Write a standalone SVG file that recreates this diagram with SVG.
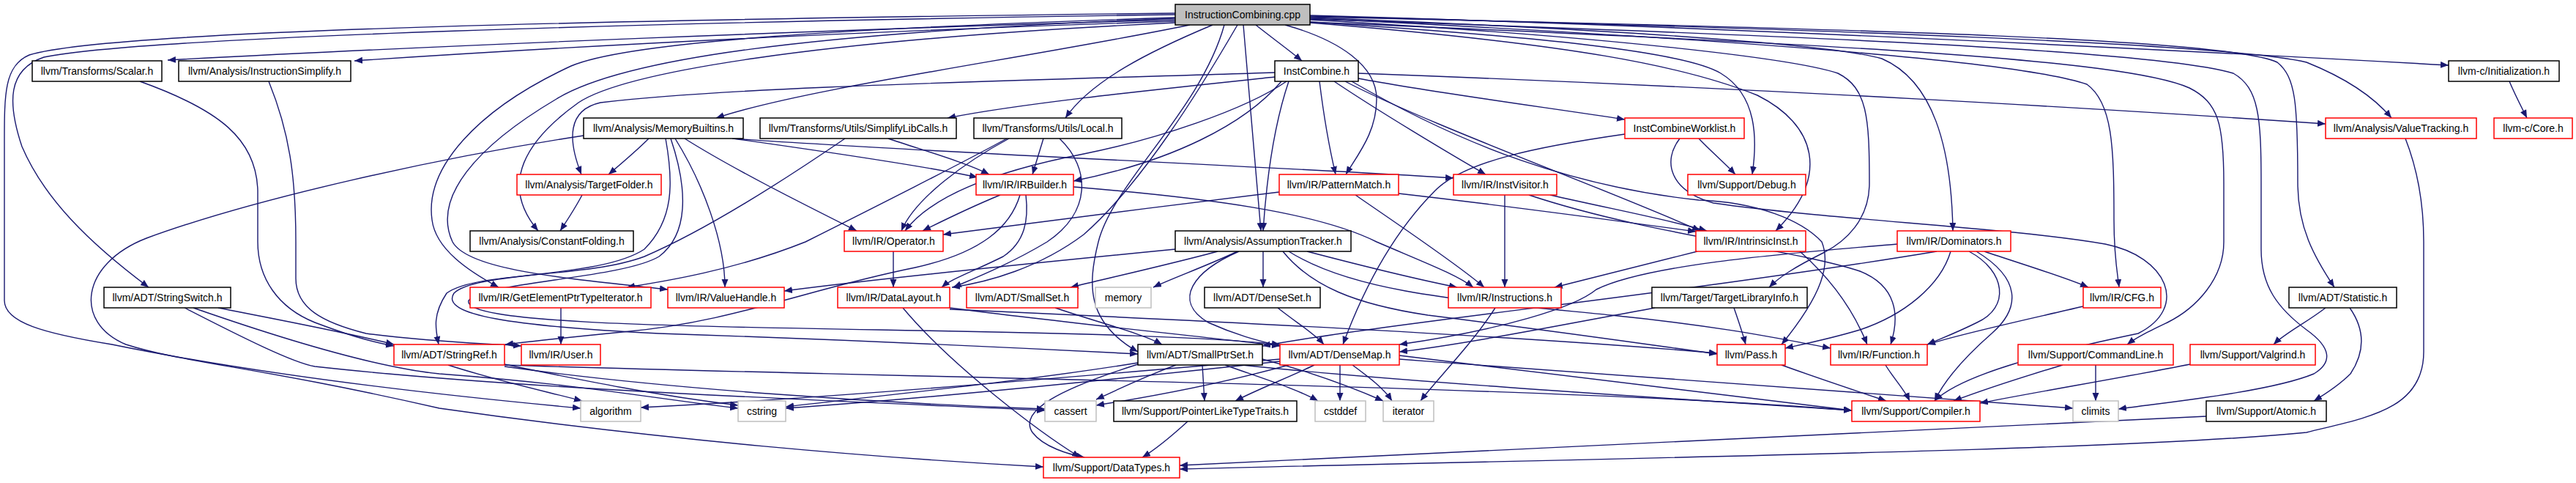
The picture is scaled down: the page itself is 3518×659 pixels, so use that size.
<svg xmlns="http://www.w3.org/2000/svg" width="3518" height="659" viewBox="0 0 3518 659">
<style>
.e path{fill:none;stroke:#191970;stroke-width:1.4;marker-end:url(#a)}
.node rect{fill:#fff;stroke:#000;stroke-width:1.5}
.node rect.r{stroke:#ff0000}
.node rect.g{stroke:#bfbfbf}
.node rect.root{fill:#bfbfbf}
.node text{font-family:"Liberation Sans",Arial,sans-serif;font-size:14px;fill:#000;text-anchor:middle}
</style>
<defs>
<marker id="a" markerUnits="userSpaceOnUse" markerWidth="12" markerHeight="10" refX="11" refY="4.5" orient="auto"><path d="M0,0L11,4.5L0,9z" fill="#191970"/></marker>
</defs>
<rect width="3518" height="659" fill="#fff"/>
<g id="edges" class="e">
<path d="M1605,27 C1150,40 600,62 229,82"/>
<path d="M1605,29 C1200,42 800,62 484,83"/>
<path d="M1715,34 C1735,50 1760,68 1778,83"/>
<path d="M1789,21 C2400,38 3000,70 3344,89"/>
<path d="M1625,34 C1400,80 1100,120 978,161"/>
<path d="M1656,34 C1570,70 1490,110 1455,161"/>
<path d="M1605,31 C1100,55 850,100 790,140 C720,190 680,250 735,315"/>
<path d="M1698,34 C1705,120 1715,230 1722,315"/>
<path d="M1755,34 C1830,55 1880,90 1880,135 C1880,180 1855,210 1838,238"/>
<path d="M1789,30 C2100,50 2300,70 2350,100 C2400,130 2400,190 2393,238"/>
<path d="M1789,31 C2150,60 2300,90 2400,130 C2480,170 2500,240 2425,315"/>
<path d="M1789,24 C2200,40 2500,60 2570,80 C2640,110 2665,200 2667,315"/>
<path d="M1789,22 C2500,40 3050,60 3150,85 C3200,105 3240,130 3266,161"/>
<path d="M1605,20 C900,30 200,50 60,78 C10,95 10,140 30,200 C60,270 120,330 203,392"/>
<path d="M1605,18 C900,26 150,40 40,75 C5,90 6,130 6,200 L6,410 C6,440 60,455 153,470 C300,500 500,530 793,557"/>
<path d="M1605,24 C1100,40 850,60 780,90 C650,150 580,230 590,300 C595,340 640,370 681,392"/>
<path d="M1605,25 C1100,45 850,80 760,135 C650,200 590,270 618,330 C640,370 780,380 912,395"/>
<path d="M1690,34 C1640,120 1560,250 1480,320 C1420,365 1350,385 1300,392"/>
<path d="M1672,34 C1640,150 1520,250 1500,330 C1485,390 1484,440 1554,480"/>
<path d="M1789,25 C2300,50 2750,80 2850,115 C2885,140 2887,200 2887,300 C2887,350 2892,375 2894,392"/>
<path d="M1789,23 C2600,40 3050,55 3110,85 C3135,105 3138,140 3138,250 C3138,310 3160,350 3188,392"/>
<path d="M1789,27 C2200,50 2450,80 2510,100 C2550,120 2553,160 2553,250 C2553,300 2520,330 2490,345 C2450,365 2430,378 2416,392"/>
<path d="M1789,30 C2500,60 2900,80 2990,120 C3030,140 3037,170 3037,250 L3037,330 C3037,380 3000,420 2960,440 C2935,452 2918,460 2905,470"/>
<path d="M1789,26 C2500,50 2950,70 3050,100 C3085,120 3088,160 3088,250 L3088,340 C3088,390 3110,420 3150,450 C3185,475 3185,495 3160,510 C3100,535 2950,550 2893,558"/>
<path d="M1855,107 C1950,125 2100,145 2219,163"/>
<path d="M1741,105 C1600,120 1400,140 1294,161"/>
<path d="M1741,99 C1400,110 1000,118 820,140 C775,150 775,190 794,238"/>
<path d="M1855,100 C2400,120 2900,150 3176,169"/>
<path d="M1760,111 C1740,170 1730,240 1725,315"/>
<path d="M1750,111 C1700,170 1600,220 1466,247"/>
<path d="M1822,111 C1880,150 1980,210 2029,238"/>
<path d="M1837,111 C1950,170 2200,260 2322,315"/>
<path d="M1757,111 C1700,150 1580,190 1480,210 C1350,235 1270,270 1236,315"/>
<path d="M1802,111 C1808,160 1815,200 1824,238"/>
<path d="M1846,111 C2000,200 2150,255 2320,273 C2400,276 2460,300 2488,330 C2500,360 2490,400 2433,470"/>
<path d="M3427,111 C3435,130 3443,145 3451,161"/>
<path d="M886,189 C870,205 850,222 831,238"/>
<path d="M1001,189 C1150,210 1270,228 1335,242"/>
<path d="M1000,189 C1300,210 1700,225 1985,243"/>
<path d="M935,189 C1000,230 1100,280 1170,315"/>
<path d="M922,189 C960,250 990,330 990,392"/>
<path d="M797,185 C600,215 350,270 200,325 C110,360 100,440 172,470 C250,495 350,500 600,557 C900,600 1200,625 1425,637"/>
<path d="M909,189 C920,250 920,300 880,340 C820,380 650,370 620,400 C600,430 700,445 900,455 C1200,465 1400,475 1554,483"/>
<path d="M916,189 C940,260 940,320 900,350 C850,380 660,385 640,410 C630,440 900,445 1200,450 C1500,455 1650,460 1748,470"/>
<path d="M1213,189 C1260,205 1320,222 1351,238"/>
<path d="M1154,189 C1050,260 950,320 880,350 C800,380 650,370 610,400 C590,430 595,450 599,470"/>
<path d="M1425,189 C1420,205 1415,222 1410,238"/>
<path d="M1378,189 C1320,220 1250,270 1231,315"/>
<path d="M1375,189 C1300,230 1180,290 1100,330 C1000,370 900,385 856,392"/>
<path d="M1447,189 C1490,230 1490,290 1430,330 C1380,360 1330,380 1302,392"/>
<path d="M795,266 C785,285 775,300 765,315"/>
<path d="M1366,266 C1320,285 1290,300 1260,315"/>
<path d="M1401,266 C1405,300 1400,330 1370,350 C1330,370 1300,380 1286,392"/>
<path d="M1393,266 C1380,310 1340,345 1250,365 C1100,395 1000,440 850,453 C780,460 730,465 690,470"/>
<path d="M1466,255 C1650,270 1800,290 1880,330 C1950,360 1990,375 2012,392"/>
<path d="M1220,343 L1220,392"/>
<path d="M1747,262 C1600,280 1400,305 1288,320"/>
<path d="M1910,264 C2050,280 2200,300 2316,316"/>
<path d="M1851,266 C1900,300 1990,360 2027,392"/>
<path d="M2117,266 C2200,285 2280,300 2331,315"/>
<path d="M2055,266 L2055,392"/>
<path d="M2088,266 C2250,320 2450,340 2540,370 C2590,390 2595,430 2582,470"/>
<path d="M2320,189 C2335,205 2355,222 2370,238"/>
<path d="M2219,183 C2100,200 2000,220 1960,260 C1900,320 1860,400 1834,470"/>
<path d="M2294,189 C2270,220 2280,260 2340,277 C2500,300 2741,310 2875,333 C2960,350 2990,420 2920,455 C2800,480 2680,510 2642,547"/>
<path d="M2710,343 C2760,360 2820,378 2852,392"/>
<path d="M2689,343 C2740,370 2745,420 2700,440 C2670,455 2650,462 2632,470"/>
<path d="M2699,343 C2760,380 2760,420 2720,455 C2680,490 2655,520 2642,547"/>
<path d="M2664,343 C2650,390 2600,430 2540,450 C2500,462 2470,468 2438,475"/>
<path d="M2591,333 C2450,345 2250,360 2180,395 C2150,420 2050,450 1911,470"/>
<path d="M2645,343 C2300,400 1900,440 1724,472"/>
<path d="M1605,340 C1400,360 1200,380 1071,397"/>
<path d="M1663,343 C1600,360 1520,378 1462,392"/>
<path d="M1690,343 C1650,362 1600,380 1575,392"/>
<path d="M1725,343 L1725,392"/>
<path d="M1692,343 C1630,370 1600,410 1650,440 C1690,458 1720,465 1748,472"/>
<path d="M1785,343 C1850,360 1920,378 1990,392"/>
<path d="M1752,343 C1790,390 1850,415 1950,430 C2150,455 2250,470 2345,483"/>
<path d="M1760,343 C1850,400 2000,410 2200,430 C2350,445 2430,462 2500,475"/>
<path d="M1745,420 C1770,440 1795,455 1808,470"/>
<path d="M2042,420 C2010,470 1960,520 1940,547"/>
<path d="M2318,343 C2250,360 2180,378 2123,392"/>
<path d="M2458,343 C2500,380 2530,420 2550,470"/>
<path d="M2368,420 C2375,440 2380,455 2384,470"/>
<path d="M2260,420 C2150,440 2000,470 1911,480"/>
<path d="M2845,418 C2750,440 2680,455 2632,470"/>
<path d="M3176,420 C3150,440 3120,455 3105,470"/>
<path d="M3209,420 C3230,450 3230,480 3210,510 C3195,525 3175,538 3160,547"/>
<path d="M298,420 C400,440 480,455 538,470"/>
<path d="M264,420 C350,450 500,500 600,510 C800,525 900,545 1008,557"/>
<path d="M252,420 C330,460 400,495 430,500 C700,530 1100,545 1427,560"/>
<path d="M612,498 C680,520 750,535 795,547"/>
<path d="M689,497 C800,520 900,540 1008,553"/>
<path d="M689,500 C900,530 1200,550 1427,558"/>
<path d="M689,498 C1200,515 2100,525 2529,560"/>
<path d="M1606,498 C1560,515 1530,530 1497,545"/>
<path d="M1642,498 C1643,515 1644,530 1645,547"/>
<path d="M1554,495 C1400,520 1200,540 1073,555"/>
<path d="M1554,497 C1450,530 1390,560 1410,590 C1425,610 1460,620 1481,624"/>
<path d="M1673,498 C1720,515 1770,530 1800,547"/>
<path d="M1696,498 C1900,520 2300,545 2529,560"/>
<path d="M1724,490 C1800,510 1850,530 1889,547"/>
<path d="M1795,498 C1760,515 1720,530 1687,547"/>
<path d="M1830,498 L1830,547"/>
<path d="M1847,498 C1870,515 1890,530 1901,547"/>
<path d="M1760,498 C1680,520 1580,540 1497,553"/>
<path d="M1748,493 C1500,520 1250,545 1073,557"/>
<path d="M1748,490 C1400,520 1100,545 875,556"/>
<path d="M1911,485 C2200,520 2400,545 2529,560"/>
<path d="M1911,490 C2300,520 2700,545 2831,557"/>
<path d="M1622,575 C1600,595 1580,612 1560,624"/>
<path d="M2433,498 C2480,515 2540,535 2576,547"/>
<path d="M2575,498 C2585,515 2600,530 2608,547"/>
<path d="M2817,498 C2760,515 2700,535 2668,547"/>
<path d="M2862,498 L2862,547"/>
<path d="M2991,497 C2900,515 2780,535 2704,550"/>
<path d="M3285,189 C3305,240 3310,290 3310,330 L3310,480 C3310,560 3230,570 3150,590 C2900,615 2200,625 1611,640"/>
<path d="M3013,568 C2500,590 2000,620 1611,635"/>
<path d="M1233,420 C1300,500 1420,590 1475,624"/>
<path d="M1297,420 C1450,440 1650,460 1748,472"/>
<path d="M1297,422 C1700,440 2100,460 2345,482"/>
<path d="M1441,420 C1500,440 1560,455 1587,470"/>
<path d="M766,420 L766,470"/>
<path d="M367,111 C395,180 404,240 404,330 L404,380 C404,420 440,440 500,455 C600,468 660,468 712,472"/>
<path d="M191,111 C300,150 350,190 352,260 L352,330 C352,380 380,420 430,440 C470,455 500,465 538,472"/>
</g>
<g id="n-cpp" class="node"><rect class="root" x="1605" y="6" width="184" height="28"/><text x="1697" y="25">InstructionCombining.cpp</text></g>
<g id="n-scalar" class="node"><rect x="44" y="83" width="177" height="28"/><text x="132.5" y="102">llvm/Transforms/Scalar.h</text></g>
<g id="n-isimp" class="node"><rect x="244" y="83" width="235" height="28"/><text x="361.5" y="102">llvm/Analysis/InstructionSimplify.h</text></g>
<g id="n-icomb" class="node"><rect x="1741" y="83" width="114" height="28"/><text x="1798" y="102">InstCombine.h</text></g>
<g id="n-init" class="node"><rect x="3344" y="83" width="151" height="28"/><text x="3419.5" y="102">llvm-c/Initialization.h</text></g>
<g id="n-membi" class="node"><rect x="797" y="161" width="218" height="28"/><text x="906" y="180">llvm/Analysis/MemoryBuiltins.h</text></g>
<g id="n-slc" class="node"><rect x="1038" y="161" width="268" height="28"/><text x="1172" y="180">llvm/Transforms/Utils/SimplifyLibCalls.h</text></g>
<g id="n-local" class="node"><rect x="1330" y="161" width="202" height="28"/><text x="1431" y="180">llvm/Transforms/Utils/Local.h</text></g>
<g id="n-wl" class="node"><rect class="r" x="2219" y="161" width="163" height="28"/><text x="2300.5" y="180">InstCombineWorklist.h</text></g>
<g id="n-vt" class="node"><rect class="r" x="3176" y="161" width="206" height="28"/><text x="3279" y="180">llvm/Analysis/ValueTracking.h</text></g>
<g id="n-core" class="node"><rect class="r" x="3406" y="161" width="107" height="28"/><text x="3459.5" y="180">llvm-c/Core.h</text></g>
<g id="n-tf" class="node"><rect class="r" x="706" y="238" width="197" height="28"/><text x="804.5" y="257">llvm/Analysis/TargetFolder.h</text></g>
<g id="n-irb" class="node"><rect class="r" x="1333" y="238" width="133" height="28"/><text x="1399.5" y="257">llvm/IR/IRBuilder.h</text></g>
<g id="n-pm" class="node"><rect class="r" x="1747" y="238" width="163" height="28"/><text x="1828.5" y="257">llvm/IR/PatternMatch.h</text></g>
<g id="n-iv" class="node"><rect class="r" x="1985" y="238" width="141" height="28"/><text x="2055.5" y="257">llvm/IR/InstVisitor.h</text></g>
<g id="n-dbg" class="node"><rect class="r" x="2305" y="238" width="161" height="28"/><text x="2385.5" y="257">llvm/Support/Debug.h</text></g>
<g id="n-cf" class="node"><rect x="642" y="315" width="223" height="28"/><text x="753.5" y="334">llvm/Analysis/ConstantFolding.h</text></g>
<g id="n-op" class="node"><rect class="r" x="1153" y="315" width="135" height="28"/><text x="1220.5" y="334">llvm/IR/Operator.h</text></g>
<g id="n-at" class="node"><rect x="1605" y="315" width="240" height="28"/><text x="1725" y="334">llvm/Analysis/AssumptionTracker.h</text></g>
<g id="n-ii" class="node"><rect class="r" x="2316" y="315" width="150" height="28"/><text x="2391" y="334">llvm/IR/IntrinsicInst.h</text></g>
<g id="n-dom" class="node"><rect class="r" x="2591" y="315" width="155" height="28"/><text x="2668.5" y="334">llvm/IR/Dominators.h</text></g>
<g id="n-ss" class="node"><rect x="142" y="392" width="173" height="28"/><text x="228.5" y="411">llvm/ADT/StringSwitch.h</text></g>
<g id="n-gep" class="node"><rect class="r" x="642" y="392" width="247" height="28"/><text x="765.5" y="411">llvm/IR/GetElementPtrTypeIterator.h</text></g>
<g id="n-vh" class="node"><rect class="r" x="912" y="392" width="159" height="28"/><text x="991.5" y="411">llvm/IR/ValueHandle.h</text></g>
<g id="n-dl" class="node"><rect class="r" x="1144" y="392" width="153" height="28"/><text x="1220.5" y="411">llvm/IR/DataLayout.h</text></g>
<g id="n-sset" class="node"><rect class="r" x="1320" y="392" width="152" height="28"/><text x="1396" y="411">llvm/ADT/SmallSet.h</text></g>
<g id="n-mem" class="node"><rect class="g" x="1496" y="392" width="76" height="28"/><text x="1534" y="411">memory</text></g>
<g id="n-dset" class="node"><rect x="1645" y="392" width="158" height="28"/><text x="1724" y="411">llvm/ADT/DenseSet.h</text></g>
<g id="n-ins" class="node"><rect class="r" x="1978" y="392" width="154" height="28"/><text x="2055" y="411">llvm/IR/Instructions.h</text></g>
<g id="n-tli" class="node"><rect x="2256" y="392" width="212" height="28"/><text x="2362" y="411">llvm/Target/TargetLibraryInfo.h</text></g>
<g id="n-cfg" class="node"><rect class="r" x="2845" y="392" width="106" height="28"/><text x="2898" y="411">llvm/IR/CFG.h</text></g>
<g id="n-stat" class="node"><rect x="3126" y="392" width="147" height="28"/><text x="3199.5" y="411">llvm/ADT/Statistic.h</text></g>
<g id="n-sref" class="node"><rect class="r" x="538" y="470" width="151" height="28"/><text x="613.5" y="489">llvm/ADT/StringRef.h</text></g>
<g id="n-user" class="node"><rect class="r" x="712" y="470" width="108" height="28"/><text x="766" y="489">llvm/IR/User.h</text></g>
<g id="n-sps" class="node"><rect x="1554" y="470" width="170" height="28"/><text x="1639" y="489">llvm/ADT/SmallPtrSet.h</text></g>
<g id="n-dmap" class="node"><rect class="r" x="1748" y="470" width="163" height="28"/><text x="1829.5" y="489">llvm/ADT/DenseMap.h</text></g>
<g id="n-pass" class="node"><rect class="r" x="2345" y="470" width="93" height="28"/><text x="2391.5" y="489">llvm/Pass.h</text></g>
<g id="n-func" class="node"><rect class="r" x="2500" y="470" width="132" height="28"/><text x="2566" y="489">llvm/IR/Function.h</text></g>
<g id="n-cl" class="node"><rect class="r" x="2756" y="470" width="212" height="28"/><text x="2862" y="489">llvm/Support/CommandLine.h</text></g>
<g id="n-valg" class="node"><rect class="r" x="2991" y="470" width="171" height="28"/><text x="3076.5" y="489">llvm/Support/Valgrind.h</text></g>
<g id="n-algo" class="node"><rect class="g" x="793" y="547" width="82" height="28"/><text x="834" y="566">algorithm</text></g>
<g id="n-cstr" class="node"><rect class="g" x="1008" y="547" width="65" height="28"/><text x="1040.5" y="566">cstring</text></g>
<g id="n-cass" class="node"><rect class="g" x="1427" y="547" width="70" height="28"/><text x="1462" y="566">cassert</text></g>
<g id="n-pltt" class="node"><rect x="1521" y="547" width="250" height="28"/><text x="1646" y="566">llvm/Support/PointerLikeTypeTraits.h</text></g>
<g id="n-cstddef" class="node"><rect class="g" x="1796" y="547" width="69" height="28"/><text x="1830.5" y="566">cstddef</text></g>
<g id="n-iter" class="node"><rect class="g" x="1889" y="547" width="69" height="28"/><text x="1923.5" y="566">iterator</text></g>
<g id="n-comp" class="node"><rect class="r" x="2529" y="547" width="175" height="28"/><text x="2616.5" y="566">llvm/Support/Compiler.h</text></g>
<g id="n-climits" class="node"><rect class="g" x="2831" y="547" width="62" height="28"/><text x="2862" y="566">climits</text></g>
<g id="n-atomic" class="node"><rect x="3013" y="547" width="164" height="28"/><text x="3095" y="566">llvm/Support/Atomic.h</text></g>
<g id="n-dt" class="node"><rect class="r" x="1425" y="624" width="186" height="28"/><text x="1518" y="643">llvm/Support/DataTypes.h</text></g>
</svg>
